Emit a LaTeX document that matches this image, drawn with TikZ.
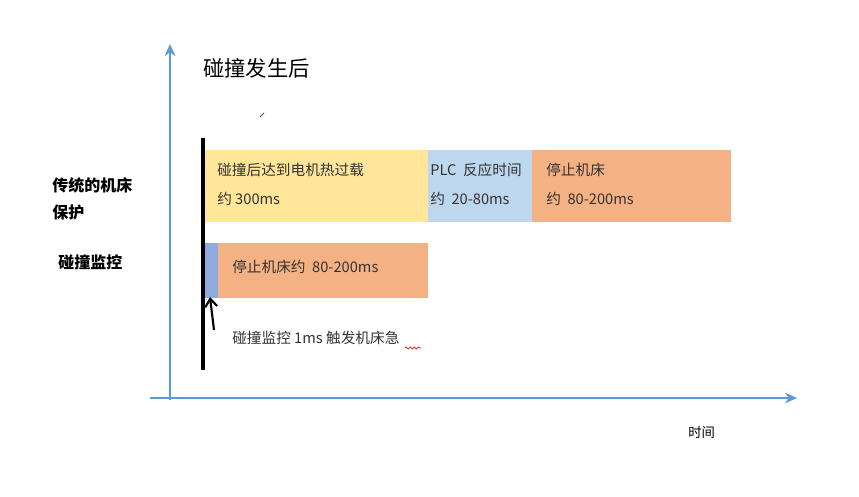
\documentclass[tikz,border=0pt]{standalone}
\usepackage{fontspec}
\setmainfont{Noto Sans CJK SC}
\usetikzlibrary{arrows.meta,decorations.pathmorphing}
\definecolor{axis}{RGB}{91,155,213}
\definecolor{yel}{RGB}{255,230,153}
\definecolor{lblue}{RGB}{189,215,238}
\definecolor{org}{RGB}{244,177,131}
\definecolor{mblue}{RGB}{143,170,220}
\tikzset{ax/.style={draw=axis,line width=1.5pt,-{Stealth[length=9pt,width=8pt]}},
bar/.style={draw=none,inner sep=0pt},
txt/.style={anchor=west,inner sep=0pt,font=\fontsize{11}{13}\selectfont,text=black!80},
lab/.style={anchor=west,inner sep=0pt,font=\fontsize{12}{14}\selectfont\bfseries}}
\begin{document}
\begin{tikzpicture}[x=0.75pt,y=-0.75pt]
\useasboundingbox (0,0) rectangle (859,496);
\coordinate (o1) at (170,400); \coordinate (yt) at (170,44);
\coordinate (o2) at (150,398); \coordinate (xt) at (797,398);
\draw[ax] (o1) -- (yt);
\draw[ax] (o2) -- (xt);
\node[anchor=west,inner sep=0pt,font=\fontsize{16}{18}\selectfont] (title) at (203,68) {碰撞发生后};
\coordinate (t1) at (260,117); \coordinate (t2) at (264,113);
\draw[axis!60!black,line width=0.6pt] (t1) -- (t2);
\fill[yel] (205,150) rectangle (428,222);
\fill[lblue] (428,150) rectangle (532,222);
\fill[org] (532,150) rectangle (731,222);
\fill[mblue] (205,243) rectangle (218,298);
\fill[org] (218,243) rectangle (428,298);
\coordinate (b1) at (203,138); \coordinate (b2) at (203,370);
\draw[black,line width=3pt] (b1) -- (b2);
\coordinate (a1) at (214,330); \coordinate (a2) at (210,297);
\draw[black,line width=1.6pt,-{Straight Barb[length=6pt,width=9pt]}] (a1) -- (a2);
\node[txt] (y1) at (217,170) {碰撞后达到电机热过载};
\node[txt] (y2) at (217,199) {约 300ms};
\node[txt] (p1) at (430,170) {PLC\ \ 反应时间};
\node[txt] (p2) at (430,199) {约\ \ 20-80ms};
\node[txt] (s1) at (546,170) {停止机床};
\node[txt] (s2) at (546,199) {约\ \ 80-200ms};
\node[txt] (s3) at (232,267) {停止机床约\ \ 80-200ms};
\node[txt] (m1) at (232,338) {碰撞监控 1ms 触发机床急};
\coordinate (w1) at (405,348); \coordinate (w2) at (421,348);
\draw[red,line width=0.5pt,decorate,decoration={snake,amplitude=0.8pt,segment length=3pt}] (w1) -- (w2);
\node[lab] (l1) at (52,185) {传统的机床};
\node[lab] (l2) at (52,212) {保护};
\node[lab] (l3) at (58,262) {碰撞监控};
\node[anchor=west,inner sep=0pt,font=\fontsize{10}{12}\selectfont] (time) at (688,432) {时间};
\end{tikzpicture}
\end{document}
